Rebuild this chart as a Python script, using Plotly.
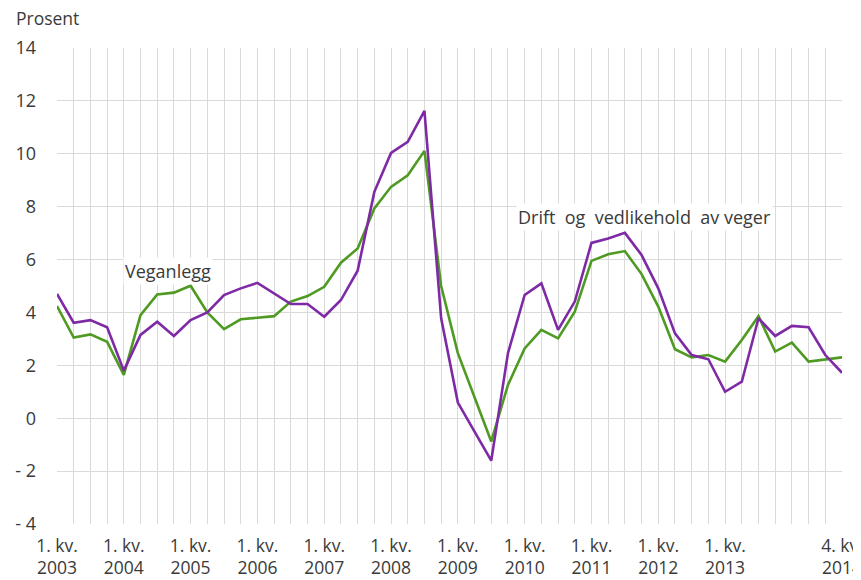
import plotly.graph_objects as go

quarters = [f"{q}. kv. {y}" for y in range(2003, 2015) for q in range(1, 5)]

drift = [4.70, 3.61, 3.71, 3.44, 1.80, 3.15, 3.65, 3.11, 3.71, 4.00,
         4.66, 4.91, 5.12, 4.72, 4.32, 4.32, 3.84, 4.47, 5.58, 8.56,
         10.03, 10.45, 11.62, 3.78, 0.59, -0.51, -1.60, 2.46, 4.66, 5.10,
         3.34, 4.41, 6.63, 6.80, 7.01, 6.17, 4.91, 3.21, 2.39, 2.23,
         1.00, 1.38, 3.78, 3.11, 3.49, 3.44, 2.39, 1.72]

veganlegg = [4.24, 3.05, 3.17, 2.89, 1.64, 3.90, 4.68, 4.75, 5.01, 4.00,
             3.37, 3.74, 3.80, 3.86, 4.41, 4.62, 4.97, 5.88, 6.42, 7.93,
             8.75, 9.19, 10.11, 5.00, 2.46, 0.82, -0.88, 1.26, 2.64, 3.34,
             3.02, 4.03, 5.95, 6.20, 6.32, 5.45, 4.22, 2.61, 2.30, 2.39,
             2.14, 2.96, 3.86, 2.52, 2.86, 2.14, 2.23, 2.30]

y_ticks = [-4, -2, 0, 2, 4, 6, 8, 10, 12, 14]
y_ticktext = ["- 4", "- 2", "0", "2", "4", "6", "8", "10", "12", "14"]

x = list(range(len(quarters)))
x_ticktext = []
for i, q in enumerate(quarters):
    yr = q.split(" ")[-1]
    if (i % 4 == 0 and i <= 40) or i == len(quarters) - 1:
        x_ticktext.append(q.rsplit(" ", 1)[0] + "<br>" + yr)
    else:
        x_ticktext.append("")

font_family = "Open Sans, sans-serif"
text_color = "#3a3a3a"

fig = go.Figure()
fig.add_trace(go.Scatter(x=x, y=veganlegg, mode="lines", name="Veganlegg",
                         line=dict(color="#4f9a22", width=2.6)))
fig.add_trace(go.Scatter(x=x, y=drift, mode="lines", name="Drift og vedlikehold av veger",
                         line=dict(color="#7e2aa5", width=2.6)))

fig.add_annotation(x=6.63, y=5.58, text="Veganlegg", showarrow=False,
                   bgcolor="white", font=dict(size=18, color=text_color, family=font_family))
fig.add_annotation(x=35.2, y=7.6, text="Drift  og  vedlikehold  av veger", showarrow=False,
                   bgcolor="white", font=dict(size=18, color=text_color, family=font_family))
fig.add_annotation(x=0, y=1, xref="paper", yref="paper", xanchor="left", yanchor="middle",
                   xshift=-43, yshift=30, text="Prosent", showarrow=False,
                   font=dict(size=17.5, color=text_color, family=font_family))

fig.update_layout(
    width=861, height=580,
    margin=dict(l=49, r=27, t=40, b=64),
    plot_bgcolor="white", paper_bgcolor="white",
    showlegend=False,
    font=dict(family=font_family, size=17, color=text_color),
)
fig.update_xaxes(range=[0, 47], tickmode="array", tickvals=x, ticktext=x_ticktext,
                 showgrid=True, gridcolor="#dadada", gridwidth=1, zeroline=False,
                 showline=False, ticks="", tickangle=0, ticklabelstandoff=9,
                 tickfont=dict(size=17.5), automargin=False)
fig.update_yaxes(range=[-4, 14], tickmode="array", tickvals=y_ticks, ticktext=y_ticktext,
                 showgrid=True, gridcolor="#dadada", gridwidth=1, zeroline=False,
                 showline=False, ticks="", ticklabelstandoff=20, tickfont=dict(size=18),
                 automargin=False)

fig.write_html("out.html")
